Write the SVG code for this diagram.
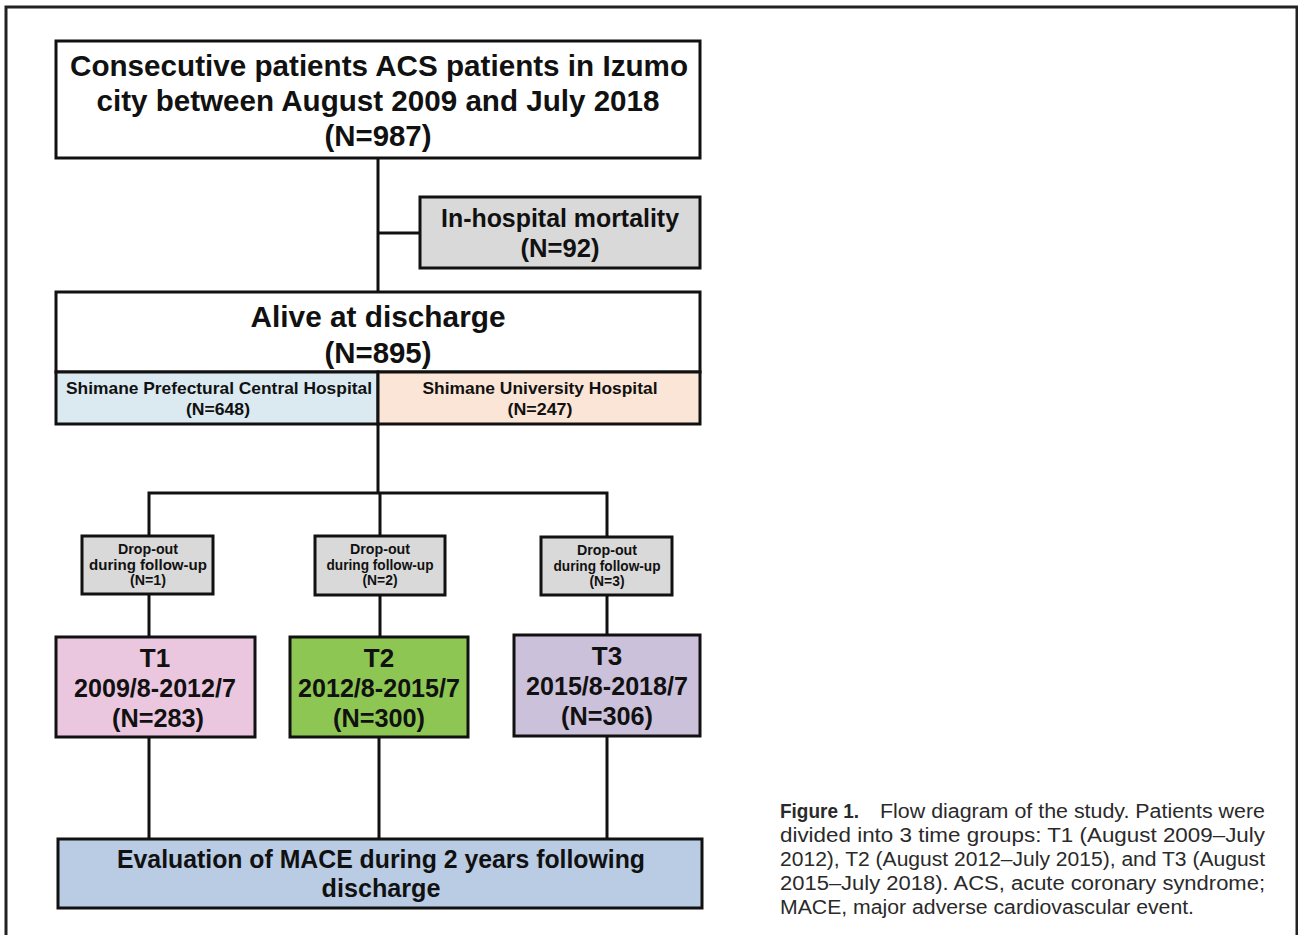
<svg xmlns="http://www.w3.org/2000/svg" width="1298" height="935" viewBox="0 0 1298 935">
<style>
.box{stroke:#111;stroke-width:3}
.t{font-family:"Liberation Sans",Arial,sans-serif;font-weight:bold;fill:#111;text-anchor:middle}
.cap{font-family:"Liberation Sans",Arial,sans-serif;font-size:20px;fill:#2a2a2a}
.ln{stroke:#111;stroke-width:3;fill:none}
</style>
<rect width="1298" height="935" fill="#fff"/>
<path d="M6,935 V7 H1297 V935" fill="none" stroke="#222" stroke-width="3"/>
<g id="connectors">
<path class="ln" d="M378,158 V292 M378,233 H420"/>
<path class="ln" d="M378,424 V493 M149,536 V493 H607 V536 M380,493 V536"/>
<path class="ln" d="M149,595 V637 M380,595 V637 M607,595 V635"/>
<path class="ln" d="M149,737 V839 M379,737 V839 M607,736 V839"/>
</g>
<g id="n-total">
<rect class="box" x="56" y="41" width="644" height="117" fill="#fff"/>
<text class="t" font-size="30" x="379" y="76" textLength="618" lengthAdjust="spacingAndGlyphs">Consecutive patients ACS patients in Izumo</text>
<text class="t" font-size="30" x="378" y="111" textLength="563" lengthAdjust="spacingAndGlyphs">city between August 2009 and July 2018</text>
<text class="t" font-size="30" x="378" y="146" textLength="107" lengthAdjust="spacingAndGlyphs">(N=987)</text>
</g>
<g id="n-mortality">
<rect class="box" x="420" y="197" width="280" height="71" fill="#d9d9d9"/>
<text class="t" font-size="25" x="560" y="227" textLength="238" lengthAdjust="spacingAndGlyphs">In-hospital mortality</text>
<text class="t" font-size="25" x="560" y="257" textLength="79" lengthAdjust="spacingAndGlyphs">(N=92)</text>
</g>
<g id="n-alive">
<rect class="box" x="56" y="292" width="644" height="80" fill="#fff"/>
<text class="t" font-size="30" x="378" y="327" textLength="255" lengthAdjust="spacingAndGlyphs">Alive at discharge</text>
<text class="t" font-size="30" x="378" y="363" textLength="107" lengthAdjust="spacingAndGlyphs">(N=895)</text>
</g>
<g id="n-spch">
<rect class="box" x="56" y="372" width="322" height="52" fill="#dbeaf1"/>
<text class="t" font-size="17" x="219" y="394" textLength="306" lengthAdjust="spacingAndGlyphs">Shimane Prefectural Central Hospital</text>
<text class="t" font-size="17" x="218" y="415" textLength="64" lengthAdjust="spacingAndGlyphs">(N=648)</text>
</g>
<g id="n-suh">
<rect class="box" x="378" y="372" width="322" height="52" fill="#fbe5d6"/>
<text class="t" font-size="17" x="540" y="394" textLength="235" lengthAdjust="spacingAndGlyphs">Shimane University Hospital</text>
<text class="t" font-size="17" x="540" y="415" textLength="65" lengthAdjust="spacingAndGlyphs">(N=247)</text>
</g>
<g id="n-drop1">
<rect class="box" x="82" y="536" width="131" height="58" fill="#d9d9d9"/>
<text class="t" font-size="14" x="148" y="554" textLength="60" lengthAdjust="spacingAndGlyphs">Drop-out</text>
<text class="t" font-size="14" x="148" y="570" textLength="118" lengthAdjust="spacingAndGlyphs">during follow-up</text>
<text class="t" font-size="14" x="148" y="585" textLength="36" lengthAdjust="spacingAndGlyphs">(N=1)</text>
</g>
<g id="n-drop2">
<rect class="box" x="315" y="536" width="130" height="59" fill="#d9d9d9"/>
<text class="t" font-size="14" x="380" y="554" textLength="60" lengthAdjust="spacingAndGlyphs">Drop-out</text>
<text class="t" font-size="14" x="380" y="570" textLength="107" lengthAdjust="spacingAndGlyphs">during follow-up</text>
<text class="t" font-size="14" x="380" y="585" textLength="35" lengthAdjust="spacingAndGlyphs">(N=2)</text>
</g>
<g id="n-drop3">
<rect class="box" x="541" y="537" width="131" height="58" fill="#d9d9d9"/>
<text class="t" font-size="14" x="607" y="555" textLength="60" lengthAdjust="spacingAndGlyphs">Drop-out</text>
<text class="t" font-size="14" x="607" y="571" textLength="107" lengthAdjust="spacingAndGlyphs">during follow-up</text>
<text class="t" font-size="14" x="607" y="586" textLength="35" lengthAdjust="spacingAndGlyphs">(N=3)</text>
</g>
<g id="n-t1">
<rect class="box" x="56" y="637" width="199" height="100" fill="#eac7df"/>
<text class="t" font-size="26" x="155" y="667">T1</text>
<text class="t" font-size="26" x="155" y="697" textLength="162" lengthAdjust="spacingAndGlyphs">2009/8-2012/7</text>
<text class="t" font-size="26" x="158" y="727" textLength="92" lengthAdjust="spacingAndGlyphs">(N=283)</text>
</g>
<g id="n-t2">
<rect class="box" x="290" y="637" width="178" height="100" fill="#8dc653"/>
<text class="t" font-size="26" x="379" y="667">T2</text>
<text class="t" font-size="26" x="379" y="697" textLength="162" lengthAdjust="spacingAndGlyphs">2012/8-2015/7</text>
<text class="t" font-size="26" x="379" y="727" textLength="92" lengthAdjust="spacingAndGlyphs">(N=300)</text>
</g>
<g id="n-t3">
<rect class="box" x="514" y="635" width="186" height="101" fill="#ccc1da"/>
<text class="t" font-size="26" x="607" y="665">T3</text>
<text class="t" font-size="26" x="607" y="695" textLength="162" lengthAdjust="spacingAndGlyphs">2015/8-2018/7</text>
<text class="t" font-size="26" x="607" y="725" textLength="92" lengthAdjust="spacingAndGlyphs">(N=306)</text>
</g>
<g id="n-eval">
<rect class="box" x="58" y="839" width="644" height="69" fill="#b9cce4"/>
<text class="t" font-size="25" x="381" y="868" textLength="528" lengthAdjust="spacingAndGlyphs">Evaluation of MACE during 2 years following</text>
<text class="t" font-size="25" x="381" y="897" textLength="119" lengthAdjust="spacingAndGlyphs">discharge</text>
</g>
<g id="caption">
<text class="cap" x="780" y="818" font-weight="bold" fill="#111" textLength="79" lengthAdjust="spacingAndGlyphs">Figure 1.</text>
<text class="cap" x="880" y="818" textLength="385" lengthAdjust="spacingAndGlyphs">Flow diagram of the study. Patients were</text>
<text class="cap" x="780" y="842" textLength="485" lengthAdjust="spacingAndGlyphs">divided into 3 time groups: T1 (August 2009–July</text>
<text class="cap" x="780" y="866" textLength="485" lengthAdjust="spacingAndGlyphs">2012), T2 (August 2012–July 2015), and T3 (August</text>
<text class="cap" x="780" y="890" textLength="485" lengthAdjust="spacingAndGlyphs">2015–July 2018). ACS, acute coronary syndrome;</text>
<text class="cap" x="780" y="914" textLength="414" lengthAdjust="spacingAndGlyphs">MACE, major adverse cardiovascular event.</text>
</g>
</svg>
